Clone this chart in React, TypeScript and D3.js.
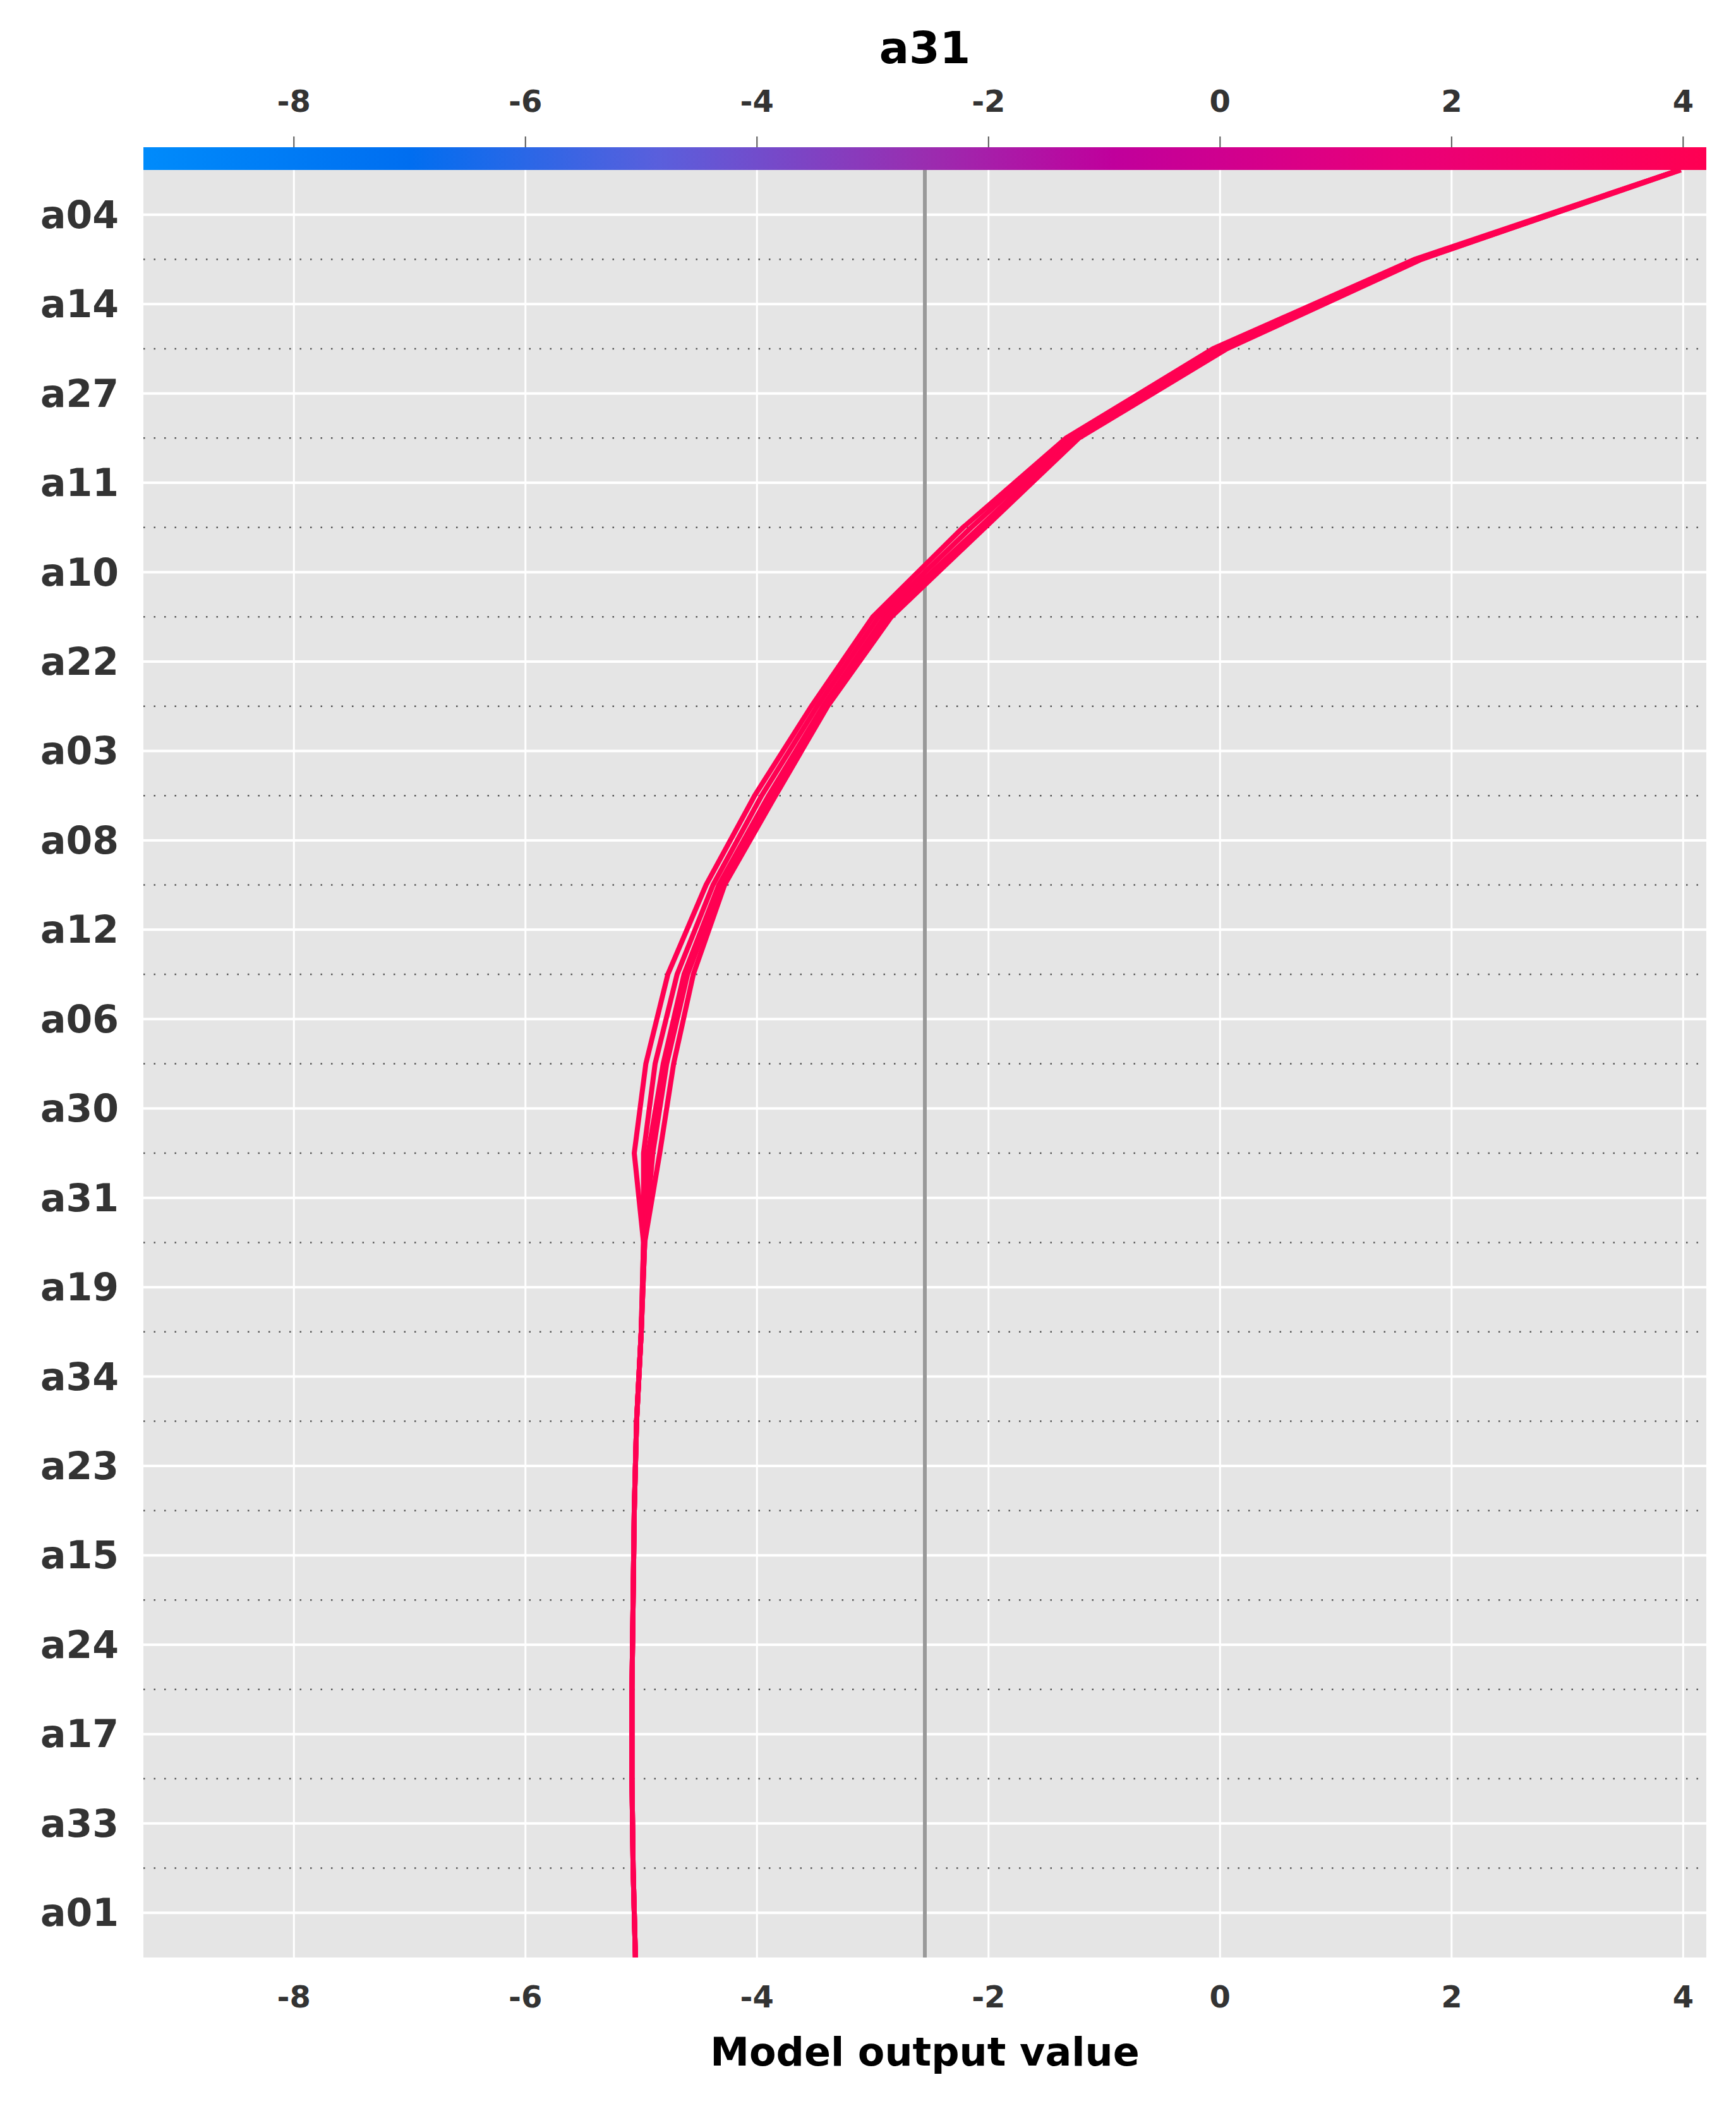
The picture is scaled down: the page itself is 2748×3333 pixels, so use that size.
import React from "react";
import * as d3 from "d3";

const features = ["a04","a14","a27","a11","a10","a22","a03","a08","a12","a06","a30","a31","a19","a34","a23","a15","a24","a17","a33","a01"];
const xTicks = [-8,-6,-4,-2,0,2,4];
const baseValue = -2.55;
const tail = [-5.0,-5.04,-5.06,-5.07,-5.08,-5.08,-5.07,-5.05];
const lineA = [3.97,1.68,-0.06,-1.33,-2.22,-3.0,-3.53,-4.02,-4.44,-4.77,-4.96,-5.06,-4.98];
const lineB = [3.97,1.70,-0.02,-1.30,-2.15,-2.95,-3.48,-3.96,-4.38,-4.69,-4.88,-4.98,-4.98];
const lineC = [3.97,1.72,0.02,-1.26,-2.08,-2.90,-3.43,-3.90,-4.33,-4.63,-4.81,-4.94,-4.97];
const lineC2 = [3.98,1.73,0.04,-1.24,-2.06,-2.88,-3.41,-3.88,-4.31,-4.60,-4.78,-4.90,-4.97];
const lineD = [3.97,1.74,0.06,-1.22,-2.03,-2.84,-3.39,-3.84,-4.28,-4.55,-4.72,-4.84,-4.97];
const lines = [lineA, lineB, lineC, lineC2, lineD];

const W = 2748, H = 3333;
const L = 227, R = 2701, T = 269, B = 3098;
const font = "'DejaVu Sans', sans-serif";

export default function App() {
  const x = d3.scaleLinear().domain([-9.3, 4.2]).range([L, R]);
  const y = d3.scaleLinear().domain([0, features.length]).range([T, B]);
  const line = d3.line<number>().x((d) => x(d)).y((_, i) => y(i));
  const stops: [number, string][] = [
    [0, "#008bfb"], [0.17, "#006ef0"], [0.33, "#5a5fdc"], [0.5, "#9a2db0"],
    [0.62, "#c0009c"], [0.8, "#e8007a"], [1, "#ff0052"],
  ];
  return (
    <svg width={W} height={H} style={{ position: "absolute", left: 0, top: 0 }} fontFamily={font}>
      <rect width={W} height={H} fill="#fff" />
      <defs>
        <linearGradient id="cb" x1="0" x2="1" y1="0" y2="0">
          {stops.map(([o, c]) => <stop key={o} offset={o} stopColor={c} />)}
        </linearGradient>
        <clipPath id="pc"><rect x={L} y={T - 10} width={R - L} height={B - T + 10} /></clipPath>
      </defs>
      <rect x={L} y={T} width={R - L} height={B - T} fill="#e5e5e5" />
      {xTicks.map((t) => (
        <line key={"v" + t} x1={x(t)} x2={x(t)} y1={T} y2={B} stroke="#fff" strokeWidth={3} />
      ))}
      {features.map((f, i) => (
        <line key={"h" + f} x1={L} x2={R} y1={y(i + 0.5)} y2={y(i + 0.5)} stroke="#fff" strokeWidth={4} />
      ))}
      {d3.range(1, features.length).map((i) => (
        <line key={"d" + i} x1={L} x2={R} y1={y(i)} y2={y(i)} stroke="#555" strokeWidth={2.5} strokeDasharray="2.5 14" />
      ))}
      <line x1={x(baseValue)} x2={x(baseValue)} y1={T - 36} y2={B} stroke="#999" strokeWidth={6} />
      <g clipPath="url(#pc)">
        {lines.map((vals, k) => (
          <path key={k} d={line(vals.concat(tail)) || ""} fill="none" stroke="#ff0052" strokeWidth={8} strokeLinejoin="miter" />
        ))}
      </g>
      <rect x={L} y={233} width={R - L} height={36} fill="url(#cb)" />
      {xTicks.map((t) => (
        <g key={"t" + t}>
          <line x1={x(t)} x2={x(t)} y1={216} y2={233} stroke="#555" strokeWidth={2} />
          <text x={x(t)} y={160} textAnchor="middle" dominantBaseline="central" fontSize={48} fontWeight="bold" fill="#333">{t}</text>
          <text x={x(t)} y={3160} textAnchor="middle" dominantBaseline="central" fontSize={48} fontWeight="bold" fill="#333">{t}</text>
        </g>
      ))}
      {features.map((f, i) => (
        <text key={"y" + f} x={188} y={y(i + 0.5)} textAnchor="end" dominantBaseline="central" fontSize={60} fontWeight="bold" fill="#333">{f}</text>
      ))}
      <text x={(L + R) / 2} y={76} textAnchor="middle" dominantBaseline="central" fontSize={70} fontWeight="bold" fill="#000">a31</text>
      <text x={(L + R) / 2} y={3247} textAnchor="middle" dominantBaseline="central" fontSize={62} fontWeight="bold" fill="#000">Model output value</text>
    </svg>
  );
}
